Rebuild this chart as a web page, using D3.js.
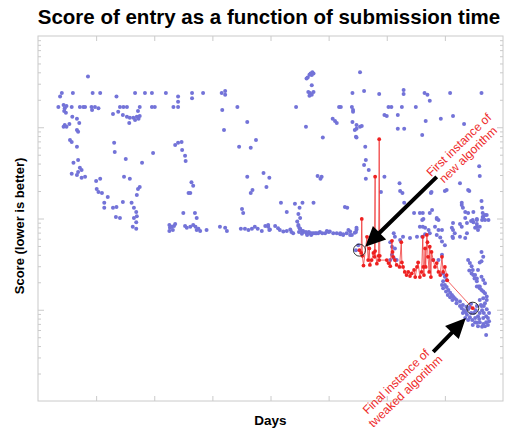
<!DOCTYPE html>
<html>
<head>
<meta charset="utf-8">
<script src="https://d3js.org/d3.v7.min.js"></script>
<style>
body { margin: 0; background: #fff; }
text { font-family: "Liberation Sans", Arial, Helvetica, sans-serif; }
</style>
</head>
<body>
<svg id="chart" width="509" height="429"></svg>
<script>
var titleText = "Score of entry as a function of submission time";
var xLabel = "Days";
var yLabel = "Score (lower is better)";
var dayDomain = [0, 8];
var dayTicks = [1, 2, 3, 4, 5, 6, 7];
var scoreDomain = [1, 10000];
var scoreMajor = [10, 100, 1000];

// every other submission: [day, score]
var otherEntries = [
    [0.86,3600],[0.41,2380],[0.60,2380],[0.94,2380],[1.07,2380],[0.38,2170],[1.35,2170],[1.67,2380],[1.84,2380],[1.96,2380],[2.20,2380],[2.65,2380],[2.84,2380],[3.16,2380],[3.22,2500],[3.22,2270],
    [0.35,1670],[0.44,1750],[0.46,1620],[0.49,1710],[0.45,1510],[0.48,1440],[0.58,1670],[0.72,1670],[0.78,1670],[0.81,1670],[0.92,1670],[0.98,1670],[0.93,1545],[1.04,1620],[1.41,1670],[1.47,1670],[1.53,1670],[1.75,1670],[1.72,1510],[1.96,1670],[2.01,1670],[2.33,1670],[2.41,1670],[2.41,2170],[2.41,1900],[2.65,2080],[3.17,1545],[3.20,933],[3.43,1670],
    [1.29,1400],[1.38,1475],[1.46,1360],[1.53,1300],[1.58,1270],[1.64,1270],[1.70,1300],[1.75,1330],[1.67,1200],[1.73,1240],[1.57,1110],[0.59,1300],[0.67,1240],[0.71,1110],[0.46,1060],[0.44,1010],[0.49,1010],[0.54,1085],[0.67,933],[0.69,890],[0.55,725],[0.58,690],[0.67,610],[0.69,438],[0.61,408],[0.72,360],[0.69,324],[0.75,340],[0.58,309],[0.67,300],[0.75,279],[0.81,286],
    [1.31,675],[1.32,537],[1.51,450],[1.79,408],[1.98,523],[2.36,639],[2.41,675],[2.47,690],[2.48,563],[2.53,486],[2.54,428],[1.48,286],[1.58,272],[1.07,272],[1.00,257],[1.01,211],[1.04,195],[1.10,190],[1.20,172],[1.75,222],[1.72,211],[1.70,181],[2.64,250],[2.67,228],[2.62,190],[2.59,190],
    [1.14,149],[1.14,131],[1.29,131],[1.35,134],[1.46,152],[1.61,149],[1.65,131],[1.69,118],[1.70,106],[1.65,101],[1.69,91],[1.63,81],[1.69,77],[1.34,104],[1.41,101],[2.50,115],[2.70,115],[2.73,101],[3.51,127],[3.53,115],[3.46,610],[3.66,595],[3.75,725],[3.60,1140],[3.60,286],[3.66,190],[3.69,205],[3.88,316],[3.93,222],[3.98,279],
    [2.26,85],[2.27,79],[2.30,81],[2.34,83],[2.36,87],[2.26,73],[2.32,75],[2.53,83],[2.56,79],[2.62,81],[2.67,85],[2.71,81],[2.76,77],[2.79,73],[2.73,75],[2.90,75],[3.13,81],[3.22,79],[3.25,73],[3.49,77],[3.56,77],[3.62,75],[3.68,77],[3.73,81],[3.96,81],[3.98,75],
    [4.72,4000],[4.69,3880],[4.67,3760],[4.64,3520],[4.62,3420],[4.71,3740],[4.74,3880],[4.71,2890],[4.65,2440],[4.68,2380],[4.74,2440],[4.71,2270],[4.67,2220],[5.54,4000],[5.41,2380],[5.61,2500],[5.87,2320],[6.29,2560],[6.29,2320],[6.65,2380],[6.70,2270],[6.74,1950],[7.09,2380],[7.63,2380],
    [4.44,1670],[5.18,1670],[5.21,1670],[5.40,1670],[5.42,1545],[5.42,1475],[5.96,1360],[6.00,1330],[6.03,1670],[6.08,1670],[6.19,1360],[6.26,1670],[6.50,1670],[5.07,1240],[5.11,1170],[5.14,1110],[5.41,1140],[5.48,1060],[5.54,1010],[5.57,1035],[5.45,933],[5.48,960],[6.19,960],[6.30,960],[6.67,1170],[6.93,1240],[7.14,1330],[7.33,1085],[4.61,1010],[4.90,770],[5.47,785],[5.48,770],[6.61,823],[5.63,610],[5.64,438],[5.61,386],[5.69,340],[5.64,272],[4.81,293],[4.88,286],[4.86,272],[5.96,286],[5.90,195],[6.22,243],[6.23,200],[6.27,190],[6.76,190],[6.77,195],[7.00,200],[7.26,243],[7.42,200],[7.60,293],[7.59,373],[7.63,156],
    [4.18,149],[4.28,118],[4.42,145],[4.55,149],[4.74,149],[4.50,131],[4.48,112],[4.51,101],[5.28,134],[5.32,131],[6.30,149],[6.47,115],[6.62,115],[6.78,124],[6.63,99],[6.86,99],[7.29,149],[7.31,131],[7.35,118],[7.40,115],[7.49,118],[7.65,115],[7.55,99],[7.49,91],[7.45,94],[7.65,104],[7.72,109],
    [3.96,85],[3.99,76],[4.08,83],[4.13,78],[4.16,75],[4.22,72],[4.28,73],[4.34,76],[4.36,71],[4.39,69],[4.48,85],[4.50,78],[4.54,73],[4.56,71],[4.62,69],[4.68,69],[4.74,69],[4.79,69],[4.85,71],[4.97,73],[5.02,72],[5.08,69],[5.14,69],[5.20,67],[5.25,67],[5.31,69],[5.37,72],[5.40,66],[5.48,76],[5.45,70],
    [4.46,93],[4.48,83],[4.51,77],[4.56,73],[4.61,71],[4.66,71],[4.71,69],[4.77,69],[4.82,69],[4.89,69],[4.94,69],[5.00,71],[4.49,71],[4.54,68],[4.63,66],[4.70,66],[3.78,77],[3.85,73],[3.91,83],
    [5.20,69],[5.25,66],[5.34,75],[5.37,66],[5.48,79],[5.47,71],[6.40,61],[6.23,58],[6.28,63],[6.06,55],[6.09,49],[6.14,47],[5.51,51],[5.47,45],[6.12,69],[6.14,63],
    [6.57,115],[6.61,96],[6.74,115],[6.86,101],[6.83,81],[6.89,75],[6.95,75],[6.89,96],[6.57,81],[6.62,81],[6.66,79],[6.72,75],[6.74,69],
    [7.14,61],[7.17,69],[7.26,63],[7.38,69],[7.35,61],[7.48,96],[7.55,96],[7.64,96],[7.66,104],[7.69,96],[7.55,81],[7.57,75],[7.66,38],[7.63,43],
    [6.09,40],[6.12,37],[6.17,35],[6.06,35],[6.66,67],[6.61,63],[6.52,63],[6.86,66],[6.92,62],[6.95,56],[7.00,51],[6.95,40],[6.89,35],[6.80,35],
    [7.13,63],[7.26,87],[7.35,101],[7.29,141],[7.64,131],[7.69,109],[7.75,96],[7.55,87],[7.60,81],[7.52,79],
    [7.03,205],[7.40,205],[7.38,89],[7.29,81],[7.14,89],[7.12,79],[7.14,75],
    [7.60,33],[7.63,34],[7.42,27],[7.46,25],[7.49,24],[7.51,22],[7.55,20.5],[7.58,18],[7.60,17.2],[7.63,16.5],[7.66,15.8],[7.69,15.2],[7.72,14],[7.66,13.4],[7.60,12.8],[7.72,12.8],[7.69,11.8],[7.63,11],
    [7.40,35],[7.43,32.5],[7.46,30],[7.48,27.3],[7.52,24],[7.55,22],[7.57,27.3],[7.63,23],[7.66,21.2],[7.69,19.5],[7.60,18],[7.55,18],
    [6.97,20.5],[7.00,18.7],[7.03,17.7],[7.06,16.5],[7.09,15.4],[7.12,14.5],[7.14,14],[7.17,13.4],[7.20,12.8],[7.26,12.3],[7.31,11.3],[7.37,10.8],[6.95,18.7],[6.97,17.2],[7.02,15.8],[7.05,14.5],[7.09,13.7],[7.13,12.8],[7.20,11.8],[7.26,11],[7.00,23],[7.03,21.2],[6.97,25],
    [7.29,10.4],[7.33,9.9],[7.36,9.4],[7.40,10.1],[7.43,10.7],[7.38,8.8],[7.35,8.1],[7.43,8.3],[7.47,7.7],[7.52,8.1],[7.57,8.5],[7.60,9.2],[7.64,9.9],[7.67,9.2],[7.71,8.5],[7.74,8.1],[7.76,7.5],[7.71,7.3],[7.66,7.0],[7.60,7.3],[7.55,7.2],[7.52,7.3],[7.48,6.8],[7.57,6.6],[7.64,6.5],[7.69,6.6],[7.74,6.8],[7.50,9.2],[7.53,9.9],[7.45,11.6],[7.55,11],[7.62,11.3],[7.67,11],[7.72,10.1],[7.76,9.2],[7.31,9.2],[7.40,7.7],[7.45,9.2],[7.59,7.9],[7.66,8.1],[7.71,5.3]
];

// the new algorithm, in submission order: [day, score]
var algorithmEntries = [
    [5.53,45],[5.56,42],[5.57,99],[5.58,39],[5.60,30.5],[5.66,63],[5.68,35],[5.70,47],[5.71,31],[5.74,35],[5.77,42],[5.79,38],[5.80,287],[5.80,44],[5.83,32],[5.86,39],[5.87,740],[5.88,39],[5.87,35],
    [6.00,35],[6.03,32.5],[6.06,30],[6.09,57],[6.10,43],[6.11,38],[6.14,35],[6.17,31],[6.22,29.5],[6.25,55],[6.26,33],[6.28,29.5],[6.31,26],[6.34,24],[6.37,26],[6.40,23.4],[6.43,25],[6.47,27.3],[6.49,22.8],
    [6.52,29.5],[6.54,33],[6.57,22.8],[6.60,26],[6.62,63],[6.63,29.5],[6.64,24],[6.66,47],[6.67,29.5],[6.69,66],[6.70,55],[6.71,38],[6.73,26],[6.74,49],[6.76,22.8],[6.77,43],[6.80,35],[6.83,29.5],
    [6.86,32.5],[6.89,26],[6.92,24],[6.95,38],[6.97,26],[7.00,29.5],[7.03,24],[7.04,21],[7.48,10.4]
];

var firstNote = ["First instance of", "new algorithm"];
var finalNote = ["Final instance of", "tweaked algorithm"];
var firstNoteAt = [7.24, 639];
var finalNoteAt = [6.16, 1.63];
// [tail day, tail score, tip day, tip score]
var firstArrow = [6.86, 286, 5.63, 49];
var finalArrow = [6.80, 3.45, 7.36, 8.1];

var svg = d3.select("#chart");
var plot = { left: 38, right: 503, top: 36, bottom: 401 };

var x = d3.scaleLinear().domain(dayDomain).range([plot.left, plot.right]);
var y = d3.scaleLog().domain(scoreDomain).range([plot.bottom, plot.top]);

var scoreMinor = [];
for (var k = 0; k < 4; k++) {
    for (var m = 2; m < 10; m++) scoreMinor.push(m * Math.pow(10, k));
}

var gridColor = "#cacaca";

svg.append("rect")
    .attr("x", plot.left).attr("y", plot.top)
    .attr("width", plot.right - plot.left).attr("height", plot.bottom - plot.top)
    .attr("fill", "none").attr("stroke", gridColor);

function tidy(g) {
    g.select(".domain").remove();
    g.selectAll(".tick line").attr("stroke", gridColor);
    g.selectAll(".tick text").remove();
}

svg.append("g").attr("transform", "translate(0," + plot.bottom + ")")
    .call(d3.axisBottom(x).tickValues(dayTicks).tickSize(-5)).call(tidy);
svg.append("g").attr("transform", "translate(0," + plot.top + ")")
    .call(d3.axisTop(x).tickValues(dayTicks).tickSize(-5)).call(tidy);
svg.append("g").attr("transform", "translate(" + plot.left + ",0)")
    .call(d3.axisLeft(y).tickValues(scoreMajor).tickSize(-6)).call(tidy);
svg.append("g").attr("transform", "translate(" + plot.left + ",0)")
    .call(d3.axisLeft(y).tickValues(scoreMinor).tickSize(-3)).call(tidy);
svg.append("g").attr("transform", "translate(" + plot.right + ",0)")
    .call(d3.axisRight(y).tickValues(scoreMajor).tickSize(-6)).call(tidy);
svg.append("g").attr("transform", "translate(" + plot.right + ",0)")
    .call(d3.axisRight(y).tickValues(scoreMinor).tickSize(-3)).call(tidy);

svg.append("g").selectAll("circle")
    .data(otherEntries)
    .enter().append("circle")
    .attr("cx", function (d) { return x(d[0]); })
    .attr("cy", function (d) { return y(d[1]); })
    .attr("r", 2)
    .attr("fill", "#7373d8");

var line = d3.line()
    .x(function (d) { return x(d[0]); })
    .y(function (d) { return y(d[1]); });

svg.append("path")
    .datum(algorithmEntries)
    .attr("d", line)
    .attr("fill", "none")
    .attr("stroke", "#f03a3a")
    .attr("stroke-width", 0.8);

svg.append("g").selectAll("circle")
    .data(algorithmEntries)
    .enter().append("circle")
    .attr("cx", function (d) { return x(d[0]); })
    .attr("cy", function (d) { return y(d[1]); })
    .attr("r", 1.9)
    .attr("fill", "#ee2020");

var marked = [algorithmEntries[0], algorithmEntries[algorithmEntries.length - 1]];
svg.append("g").selectAll("circle")
    .data(marked)
    .enter().append("circle")
    .attr("cx", function (d) { return x(d[0]); })
    .attr("cy", function (d) { return y(d[1]); })
    .attr("r", 6)
    .attr("fill", "none")
    .attr("stroke", "#222")
    .attr("stroke-width", 0.9);

function arrowPoints(a) {
    var t = [x(a[0]), y(a[1])], h = [x(a[2]), y(a[3])];
    var dx = h[0] - t[0], dy = h[1] - t[1], len = Math.sqrt(dx * dx + dy * dy);
    var ux = dx / len, uy = dy / len, px = -uy, py = ux;
    var bx = h[0] - ux * 20, by = h[1] - uy * 20;
    return [
        [t[0] + px * 2, t[1] + py * 2],
        [bx + px * 2, by + py * 2],
        [bx + px * 9.5, by + py * 9.5],
        h,
        [bx - px * 9.5, by - py * 9.5],
        [bx - px * 2, by - py * 2],
        [t[0] - px * 2, t[1] - py * 2]
    ];
}

svg.selectAll(".arrow")
    .data([firstArrow, finalArrow])
    .enter().append("path")
    .classed("arrow", true)
    .attr("d", function (d) { return d3.line()(arrowPoints(d)) + "Z"; })
    .attr("fill", "#000");

function note(lines, at, angle) {
    var g = svg.append("g")
        .attr("transform", "translate(" + x(at[0]) + "," + y(at[1]) + ") rotate(" + angle + ")");
    g.selectAll("text")
        .data(lines)
        .enter().append("text")
        .attr("y", function (d, i) { return 4 + i * 13.5; })
        .attr("text-anchor", "middle")
        .attr("font-size", "12px")
        .attr("fill", "#ee2a2a")
        .text(function (d) { return d; });
}
note(firstNote, firstNoteAt, -44);
note(finalNote, finalNoteAt, -44);

svg.append("text")
    .attr("x", 269).attr("y", 24)
    .attr("text-anchor", "middle")
    .attr("font-size", "20.5px")
    .attr("font-weight", "bold")
    .text(titleText);

svg.append("text")
    .attr("x", (plot.left + plot.right) / 2).attr("y", 425)
    .attr("text-anchor", "middle")
    .attr("font-size", "13.5px")
    .attr("font-weight", "bold")
    .text(xLabel);

svg.append("text")
    .attr("transform", "translate(24,226) rotate(-90)")
    .attr("text-anchor", "middle")
    .attr("font-size", "13px")
    .attr("font-weight", "bold")
    .text(yLabel);
</script>
</body>
</html>
